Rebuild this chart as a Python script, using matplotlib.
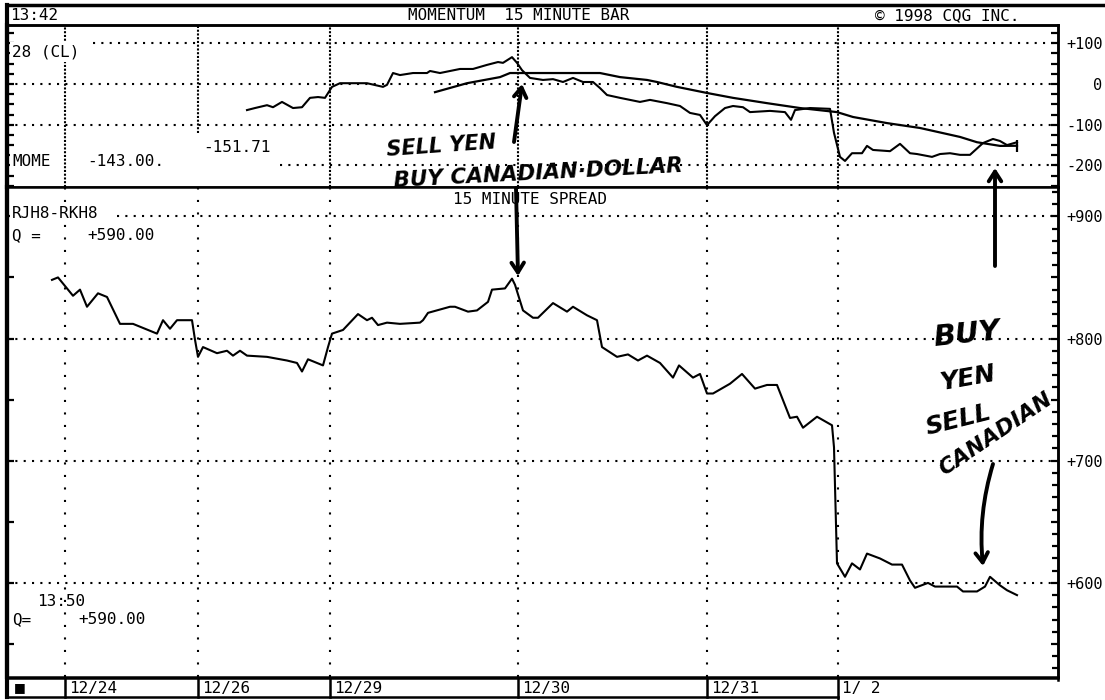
import matplotlib
matplotlib.use("Agg")
import matplotlib.pyplot as plt
from matplotlib import transforms
from matplotlib.ticker import MultipleLocator, FixedLocator, FixedFormatter

# ---------------- data ----------------
day_labels = ["12/24", "12/26", "12/29", "12/30", "12/31", "1/ 2"]
day_start_bar = [11.6, 38.2, 64.6, 102.2, 140.0, 166.2]

# 15 minute spread RJH8-RKH8
spread_bar = [9.0, 10.2, 13.2, 14.6, 16.0, 18.2, 20.0, 22.6, 25.2, 30.0, 31.2, 32.6,
              34.0, 37.0, 37.6, 38.2, 39.2, 42.0, 44.0, 45.2, 46.6, 48.0, 52.0, 56.0,
              58.0, 59.0, 60.2, 63.2, 64.2, 65.0, 67.2, 70.2, 72.0, 73.0, 74.2, 76.0,
              78.6, 82.6, 83.2, 84.2, 88.6, 89.6, 92.2, 94.0, 96.2, 97.0, 99.6, 101.0,
              101.6, 103.2, 105.2, 106.2, 109.2, 112.0, 113.2, 116.0, 118.0, 119.0,
              122.0, 124.2, 126.2, 128.0, 130.6, 133.2, 134.4, 137.2, 138.6, 140.0,
              141.2, 144.6, 147.0, 149.6, 152.0, 154.0, 156.6, 158.0, 159.2, 162.0,
              165.0, 165.4, 166.0, 167.6, 169.0, 170.6, 172.0, 174.6, 177.0, 179.0,
              180.6, 181.6, 184.2, 185.6, 190.0, 191.2, 194.0, 195.6, 196.6, 198.6,
              200.0, 202.0]
spread_val = [848, 850, 835, 840, 826, 837, 834, 812, 812, 804, 815, 808,
              815, 815, 799, 785, 793, 788, 790, 786, 790, 786, 785, 782,
              780, 773, 783, 778, 793, 804, 807, 820, 815, 817, 811, 813,
              812, 813, 815, 821, 826, 826, 822, 823, 830, 840, 841, 849,
              844, 823, 817, 817, 829, 822, 826, 819, 815, 793,
              785, 787, 782, 786, 780, 768, 778, 768, 771, 755,
              755, 763, 771, 759, 762, 762, 735, 736, 727, 736,
              729, 711, 616, 605, 616, 611, 624, 620, 615, 615,
              602, 596, 600, 597, 597, 593, 593, 597, 605, 598,
              594, 590]

# momentum (28 CL) and its average
mom_bar = [48.0, 49.6, 52.0, 53.2, 55.0, 57.2, 59.0, 60.6, 62.2, 63.6, 65.0, 66.6,
           72.0, 75.2, 76.0, 77.2, 78.6, 81.2, 84.0, 84.6, 86.6, 90.6, 93.2, 96.0,
           98.2, 99.2, 101.0, 102.0, 103.0, 104.6, 107.2, 109.2, 111.2, 113.2, 115.2,
           117.2, 118.6, 120.0, 122.6, 126.6, 128.6, 132.0, 134.6, 136.6, 138.6,
           140.0, 141.6, 143.6, 145.2, 147.2, 148.6, 152.6, 155.6, 156.8, 157.6,
           160.6, 164.6, 165.4, 166.6, 167.6, 169.0, 171.0, 172.0, 173.2, 176.6,
           178.6, 180.6, 182.0, 185.0, 186.6, 188.6, 190.6, 192.6, 195.2, 197.2,
           198.6, 200.0, 202.0]
mom_val = [-64, -59, -52, -57, -44, -59, -57, -34, -32, -34, -7, 2,
           2, -7, -2, 27, 22, 27, 27, 32, 27, 37, 37, 47,
           54, 52, 66, 52, 34, 15, 10, 12, 5, 15, 5,
           5, -10, -27, -34, -44, -39, -47, -54, -71, -76,
           -101, -79, -59, -54, -57, -69, -66, -69, -88, -64,
           -59, -61, -120, -179, -189, -170, -170, -152, -162, -165,
           -147, -170, -172, -179, -172, -170, -174, -174, -145, -135,
           -140, -150, -143.00]
avg_bar = [85.6, 92.0, 98.6, 100.6, 118.6, 122.6, 128.0, 130.0, 134.0, 140.0, 145.2,
           152.0, 158.6, 166.0, 169.2, 176.0, 182.6, 190.6, 194.0, 198.6, 202.0]
avg_val = [-20, 2, 17, 27, 27, 17, 10, 5, -7, -22, -34,
           -47, -59, -69, -81, -96, -108, -130, -143, -152, -151.71]

top_major = [-250, -225, -200, -175, -150, -125, -100, -75, -50, -25, 0, 25, 50, 75, 100, 125]
bot_major = [550, 600, 650, 700, 750, 800, 850, 900]

# ---------------- figure ----------------
W, H = 1105, 700
fig = plt.figure(figsize=(W / 100, H / 100), dpi=100)
fig.patch.set_facecolor("white")
MONO = "DejaVu Sans Mono"
FS = 11.5


def rect(l, t, r, b):
    return [l / W, 1 - b / H, (r - l) / W, (b - t) / H]


ax_t = fig.add_axes(rect(7, 25, 1058, 187))
ax_b = fig.add_axes(rect(7, 187, 1058, 677))
XMAX = 210.2
ax_t.set_xlim(0, XMAX)
ax_b.set_xlim(0, XMAX)
ax_t.set_ylim(-253, 145)
ax_b.set_ylim(523, 924)

dot_h = (0, (1, 3))

for ax, major, minor in ((ax_t, top_major, None), (ax_b, bot_major, 10)):
    ax.set_xticks([])
    ax.yaxis.tick_right()
    ax.yaxis.set_major_locator(FixedLocator(major))
    labs = []
    for v in major:
        if v % 100 == 0:
            labs.append("0" if v == 0 else f"{v:+d}")
        else:
            labs.append("")
    ax.yaxis.set_major_formatter(FixedFormatter(labs))
    if minor:
        ax.yaxis.set_minor_locator(MultipleLocator(minor))
    ax.tick_params(axis="y", which="major", left=True, right=True, direction="in",
                   length=5, width=1.6, pad=32.0, labelsize=11)
    ax.tick_params(axis="y", which="minor", left=False, right=True, direction="in",
                   length=4, width=1.6)
    for lbl in ax.get_yticklabels():
        lbl.set_horizontalalignment("right")
        lbl.set_family(MONO)
    for s in ("top", "bottom", "right"):
        ax.spines[s].set_linewidth(1.8)
    ax.spines["left"].set_linewidth(3)

# grids
ax_t.axhline(100, xmin=0.082, color="black", lw=1.5, ls=dot_h, zorder=1)
ax_t.axhline(0, color="black", lw=1.5, ls=dot_h, zorder=1)
ax_t.axhline(-100, color="black", lw=1.5, ls=dot_h, zorder=1)
ax_t.axhline(-200, xmin=0.26, color="black", lw=1.5, ls=dot_h, zorder=1)
for i, b in enumerate(day_start_bar):
    ymin = 0.333 if i == 1 else 0.0
    ax_t.axvline(b, ymin=ymin, color="black", lw=1.5, ls=(0, (1, 0.8)), zorder=1)
    ax_b.axvline(b, color="black", lw=1.5, ls=(0, (1, 5)), zorder=1)
ax_b.axhline(900, xmin=0.105, color="black", lw=1.5, ls=dot_h, zorder=1)
for v in (800, 700, 600):
    ax_b.axhline(v, color="black", lw=1.5, ls=dot_h, zorder=1)

# series
ax_t.plot(mom_bar, mom_val, color="black", lw=1.5, zorder=3)
ax_t.plot(avg_bar, avg_val, color="black", lw=1.6, zorder=3)
ax_t.plot(avg_bar[-1:], avg_val[-1:], marker="|", ms=8, mew=1.6, color="black", zorder=3)
ax_b.plot(spread_bar, spread_val, color="black", lw=1.5, zorder=3)

# ---------------- overlay (frame, header, labels) ----------------
ov = fig.add_axes([0, 0, 1, 1])
ov.set_xlim(0, W)
ov.set_ylim(H, 0)
ov.axis("off")

ov.plot([7, W], [5, 5], color="black", lw=2.5)
ov.plot([7, 7], [5, 697], color="black", lw=3)
ov.plot([7, 1058], [25, 25], color="black", lw=1.8)
ov.plot([1058, 1058], [25, 680], color="black", lw=1.8)
ov.plot([7, 838], [697, 697], color="black", lw=1.8)
ov.plot([7, 1058], [678, 678], color="black", lw=1.8)

ov.text(10, 15, "13:42", family=MONO, fontsize=FS, va="center", ha="left")
ov.text(408, 16, "MOMENTUM  15 MINUTE BAR", family=MONO, fontsize=FS, va="center", ha="left")
ov.text(875, 16, "\u00a9 1998 CQG INC.", family=MONO, fontsize=FS, va="center", ha="left")

wb = dict(facecolor="white", edgecolor="none", pad=1.5)
ov.text(12, 52, "28 (CL)", family=MONO, fontsize=FS, va="center", ha="left", bbox=wb)
ov.text(12, 162, "MOME", family=MONO, fontsize=FS, va="center", ha="left", bbox=wb)
ov.text(87, 162, f"{mom_val[-1]:.2f}.", family=MONO, fontsize=FS, va="center", ha="left", bbox=wb)
ov.text(203, 147, f"{avg_val[-1]:.2f}", family=MONO, fontsize=FS, va="center", ha="left", bbox=wb)

ov.text(453, 199, "15 MINUTE SPREAD", family=MONO, fontsize=FS, va="center", ha="left", bbox=wb)
ov.text(12, 213, "RJH8-RKH8", family=MONO, fontsize=FS, va="center", ha="left", bbox=wb)
ov.text(12, 236, "Q =", family=MONO, fontsize=FS, va="center", ha="left")
ov.text(87, 236, f"{spread_val[-1]:+.2f}", family=MONO, fontsize=FS, va="center", ha="left", bbox=wb)
ov.text(37, 601, "13:50", family=MONO, fontsize=FS, va="center", ha="left")
ov.text(12, 620, "Q=", family=MONO, fontsize=FS, va="center", ha="left")
ov.text(78, 620, f"{spread_val[-1]:+.2f}", family=MONO, fontsize=FS, va="center", ha="left", bbox=wb)

# date bar
blend = transforms.blended_transform_factory(ax_b.transData, ov.transData)
txt_tr = transforms.offset_copy(blend, fig=fig, x=4, y=0, units="dots")
for i, (b, lab) in enumerate(zip(day_start_bar, day_labels)):
    y1 = 700 if i == len(day_labels) - 1 else 697
    ov.plot([b, b], [678, y1], color="black", lw=1.8, transform=blend)
    ov.text(b, 688, lab, family=MONO, fontsize=FS, va="center", ha="left",
            transform=txt_tr)
ov.text(14, 688, "\u25a0", family="DejaVu Sans", fontsize=9, va="center", ha="left")

# handwritten annotations
HW = dict(family="DejaVu Sans", weight="bold", style="oblique", color="black")
ov.text(386, 146, "SELL YEN", fontsize=15, rotation=4, va="center", ha="left", **HW)
ov.text(393, 173, "BUY CANADIAN\u00b7DOLLAR", fontsize=15.5, rotation=3, va="center", ha="left", **HW)
ov.text(967, 335, "BUY", fontsize=21, rotation=6, va="center", ha="center", **HW)
ov.text(968, 378, "YEN", fontsize=18, rotation=10, va="center", ha="center", **HW)
ov.text(958, 420, "SELL", fontsize=18, rotation=14, va="center", ha="center", **HW)
ov.text(996, 434, "CANADIAN", fontsize=16, rotation=34, va="center", ha="center", **HW)

arr = dict(arrowstyle="->,head_length=0.7,head_width=0.45", lw=2.8, color="black",
           shrinkA=0, shrinkB=0)
ov.annotate("", xy=(522, 84), xytext=(514, 142), arrowprops=arr)
ov.annotate("", xy=(518, 276), xytext=(516, 188), arrowprops=arr)
ov.annotate("", xy=(995, 168), xytext=(995, 266), arrowprops=arr)
ov.annotate("", xy=(983, 566), xytext=(993, 464),
            arrowprops=dict(arr, connectionstyle="arc3,rad=0.1"))

fig.savefig("out.png", dpi=100, facecolor="white")
